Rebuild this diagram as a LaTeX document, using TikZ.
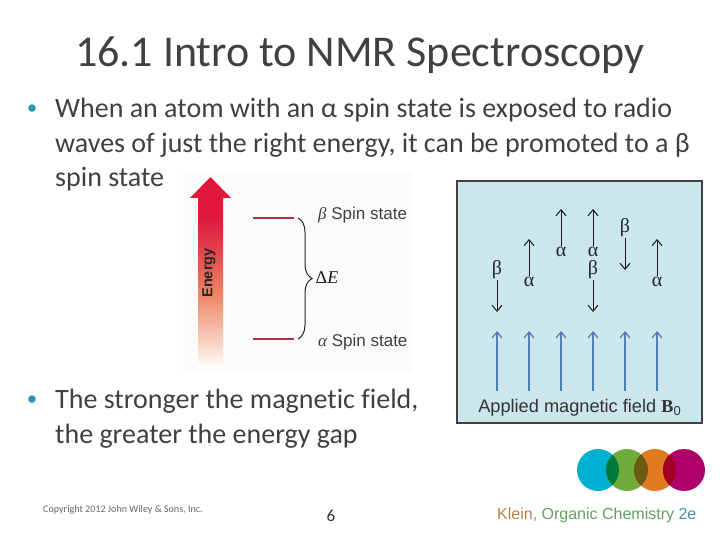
\documentclass[tikz,border=0pt]{standalone}
\usepackage{fontspec}
\setmainfont[Ligatures=NoCommon]{Carlito}
\setsansfont{Liberation Sans}
\newfontfamily\greekfont{Liberation Serif}
\usetikzlibrary{calc}
\usetikzlibrary{arrows.meta}
\usetikzlibrary{decorations.pathreplacing}
\definecolor{panel}{HTML}{CBE6EC}
\definecolor{bullet}{HTML}{2A98B0}
\definecolor{level}{HTML}{B0304C}
\definecolor{field}{HTML}{4F7FB5}
\definecolor{cblue}{HTML}{00B0D2}
\definecolor{cgreen}{HTML}{6FAC3C}
\definecolor{corange}{HTML}{E07B20}
\definecolor{cmagenta}{HTML}{B0006A}
\definecolor{ogreen}{HTML}{007A38}
\definecolor{oolive}{HTML}{6B5A10}
\definecolor{ored}{HTML}{A00020}
\definecolor{energyred}{HTML}{E0183C}
\definecolor{energymid}{HTML}{EE8060}
\definecolor{energypale}{HTML}{F8D0C0}
\definecolor{energyhot}{HTML}{E03848}
\pgfdeclareverticalshading{energyfade}{100bp}{
  color(0bp)=(white);
  color(25bp)=(white);
  color(32bp)=(energypale);
  color(45bp)=(energymid);
  color(58bp)=(energyhot);
  color(65bp)=(energyred);
  color(100bp)=(energyred)
}
\tikzset{
  title/.style={anchor=base west, inner sep=0pt, font=\fontsize{44}{44}\selectfont, text=black!75},
  body/.style={anchor=north west, inner sep=0pt, align=left, text=black!75,
    font=\fontsize{28}{34.5}\selectfont},
  dot/.style={inner sep=0pt, text=bullet, font=\fontsize{21}{24}\selectfont},
  spin/.style={anchor=base west, inner sep=0pt, text=black!75, font=\sffamily\fontsize{17}{17}\selectfont},
  greek/.style={inner sep=1pt, text=black!85, font=\greekfont\fontsize{20}{20}\selectfont},
  level line/.style={level, line width=1.5pt},
  spin arrow/.style={black!90, line width=1pt, -{Straight Barb[length=6pt,width=10pt]}},
  field arrow/.style={field, line width=1.2pt, -{Straight Barb[length=6pt,width=10pt]}},
}
\begin{document}
\begin{tikzpicture}[x=1pt,y=-1pt]
  \useasboundingbox (0,0) rectangle (720,540);

  \node (heading) [title] at (75,67) {16.1 Intro to NMR Spectroscopy};

  \node (dot1) [dot] at (32,110) {•};
  \node (text1) [body] at (55,98) {When an atom with an α spin state is exposed to radio\\
    waves of just the right energy, it can be promoted to a β\\
    spin state};
  \node (dot2) [dot] at (32,401) {•};
  \node (text2) [body] at (55,389) {The stronger the magnetic field,\\
    the greater the energy gap};

  % energy levels
  \fill[black!1.5] (183,172) rectangle (412,372);
  \shade[shading=energyfade] (198,368) -- (198,198) -- (190,198) -- (210.5,177)
    -- (231,198) -- (223,198) -- (223,368) -- cycle;
  \node (energy) [rotate=90, inner sep=0pt, text=black!85,
    font=\sffamily\bfseries\fontsize{14.5}{15}\selectfont] at (209,273) {Energy};

  \coordinate (b1) at (253,218);
  \coordinate (b2) at (294,218);
  \coordinate (a1) at (253,339);
  \coordinate (a2) at (294,339);
  \draw[level line] (b1) -- (b2);
  \draw[level line] (a1) -- (a2);
  \draw[decorate, decoration={brace, amplitude=14pt}, black!85, line width=1pt]
    ([xshift=4pt]b2) -- ([xshift=4pt]a2);
  \node (bstate) [spin] at (318,220) {{\greekfont\itshape β} Spin state};
  \node (astate) [spin] at (318,346) {{\greekfont\itshape α} Spin state};
  \node (delta) [inner sep=0pt, text=black!90, font=\greekfont\fontsize{18}{18}\selectfont]
    at (327,278) {Δ\textit{E}};

  % field panel
  \node (box) [draw=black!75, line width=1.3pt, fill=panel, inner sep=0pt,
    minimum width=245pt, minimum height=242pt] at (579.5,302) {};
  \foreach \x in {497,529,561,593,625,657} {
    \coordinate (f\x) at (\x,391);
    \coordinate (g\x) at (\x,331);
    \draw[field arrow] (f\x) -- (g\x);
  }
  \foreach \name/\x/\y in {p1/497/270,p4/593/270,p5/625/228} {
    \node (\name) [greek] at (\x,\y) {β};
    \coordinate (\name e) at (\x,\y+42);
    \draw[spin arrow] (\name) -- (\name e);
  }
  \foreach \name/\x/\y in {q2/529/282,q3/561/252,q4/593/252,q6/657/282} {
    \node (\name) [greek] at (\x,\y) {α};
    \coordinate (\name e) at (\x,\y-43);
    \draw[spin arrow] (\name) -- (\name e);
  }
  \node (applied) [inner sep=0pt, text=black!80, font=\sffamily\fontsize{18.2}{18}\selectfont]
    at (579.5,408) {Applied magnetic field {\greekfont\bfseries B}\raisebox{-2.5pt}{\fontsize{13}{13}\selectfont 0}};

  % logo
  \foreach \x/\col in {598/cblue,627/cgreen,655/corange,684/cmagenta} {
    \fill[\col] (\x,470) circle (21);
  }
  \foreach \x/\xx/\col in {598/627/ogreen,627/655/oolive,655/684/ored} {
    \begin{scope}
      \clip (\x,470) circle (21);
      \fill[\col] (\xx,470) circle (21);
    \end{scope}
  }

  % footer
  \node (copy) [anchor=base west, inner sep=0pt, text=black!60, font=\fontsize{10.1}{10}\selectfont]
    at (43,512) {Copyright 2012 John Wiley \& Sons, Inc.};
  \node (page) [anchor=base, inner sep=0pt, text=black!80, font=\fontsize{17}{17}\selectfont]
    at (331,521) {6};
  \node (klein) [anchor=base west, inner sep=0pt, font=\sffamily\fontsize{16}{16}\selectfont]
    at (497,519) {\textcolor{brown!85!gray}{Klein,} \textcolor{green!25!gray}{Organic Chemistry} \textcolor{bullet!70!gray}{2e}};
\end{tikzpicture}
\end{document}
